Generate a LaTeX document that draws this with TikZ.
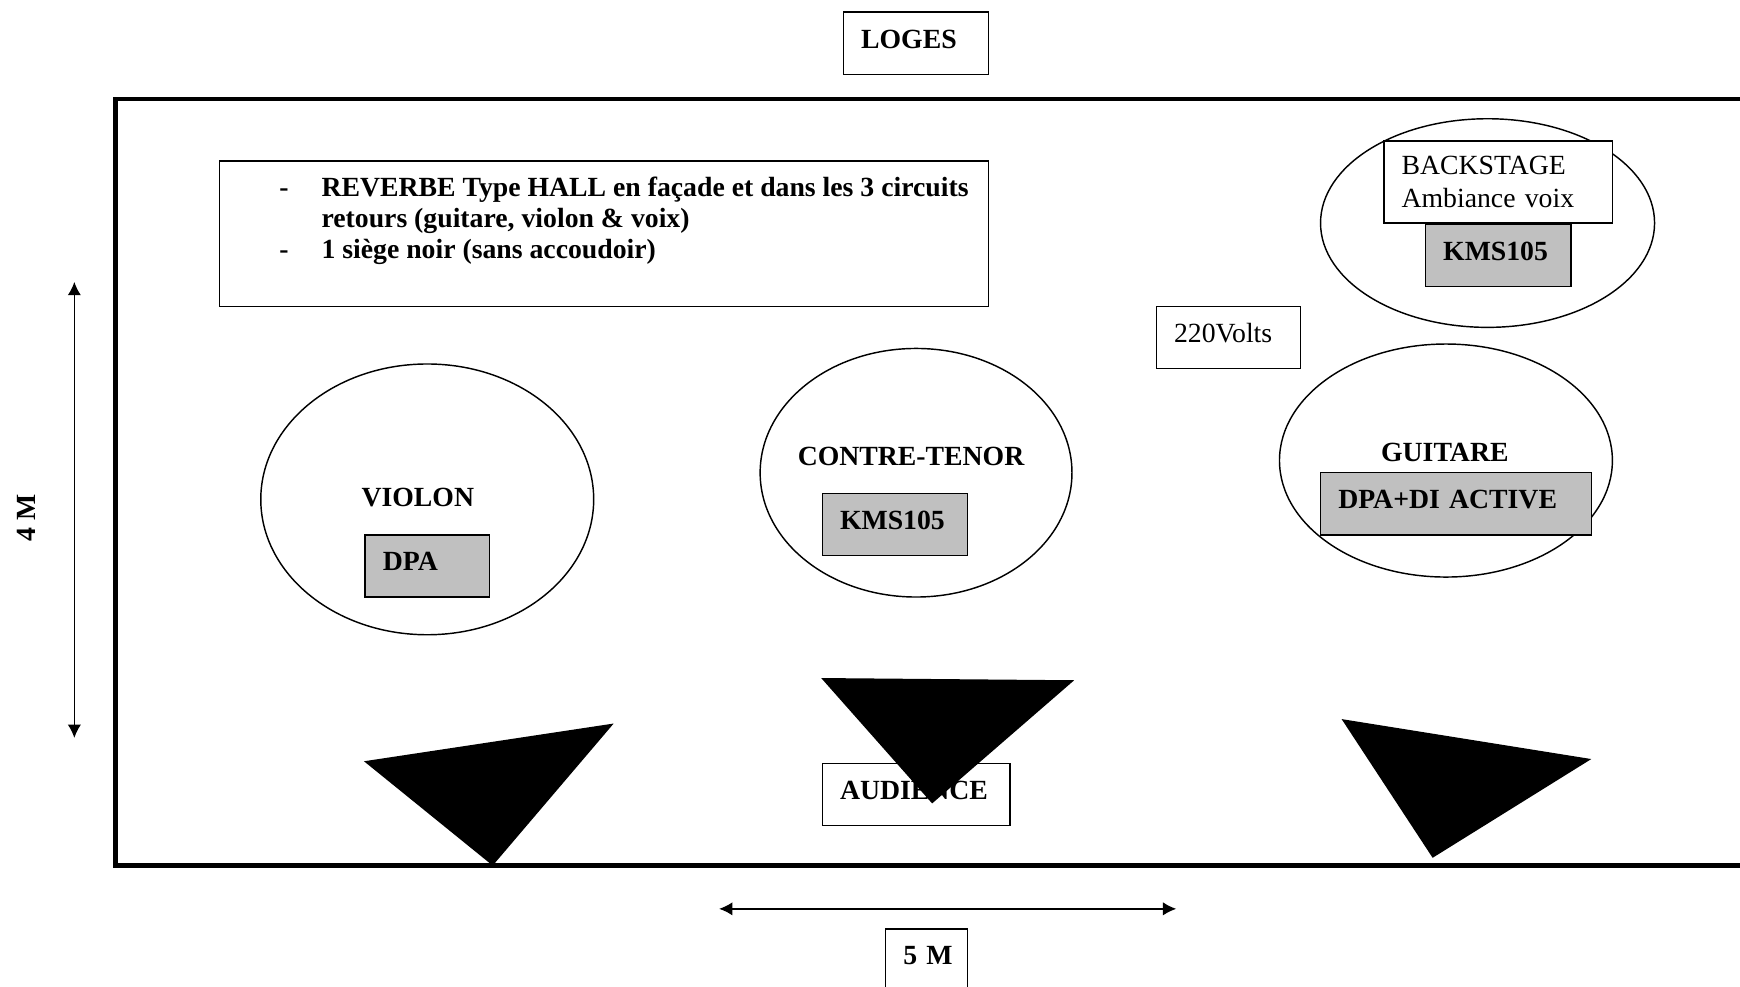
\documentclass[tikz,border=0pt,12pt]{standalone}
\usepackage{fontspec}
\setmainfont{Liberation Serif}
\usetikzlibrary{positioning,shapes.geometric,arrows.meta}
\definecolor{micgrey}{RGB}{192,192,192}

\begin{document}
\fontsize{12.5}{14.5}\selectfont
\begin{tikzpicture}[
            x=0.5pt,y=-0.5pt,
            frame/.style={draw,line width=.65pt,inner xsep=8pt,inner ysep=0pt,minimum height=28pt,
                text width=#1,align=left,font=\bfseries},
            box/.style={frame=#1,text depth=4pt},
            mic/.style={box=#1,fill=micgrey},
            zone/.style={draw,ellipse,line width=.65pt,inner sep=0pt},
            zlabel/.style={inner sep=0pt,font=\bfseries},
            spk/.style={fill=black},
            dim/.style={line width=.7pt,{Latex[length=6pt,width=6pt]}-{Latex[length=6pt,width=6pt]}}
        ]
            \useasboundingbox (0,0) rectangle (1568,889.4);
            \clip (0,0) rectangle (1568,889.4);
            \draw[line width=2pt] (104,89) rectangle (1640,780);
            \node (loges) [box=49.5pt,minimum width=65.5pt] at (825.5,39) {LOGES};
            \node (note) [draw,line width=.65pt,minimum width=346.5pt,minimum height=65.5pt] at (544.5,210.5) {};
            \node (notetxt) [anchor=north west,inner sep=0pt,font=\bfseries\fontsize{12.5}{14}\selectfont]
                at ([xshift=27pt,yshift=-6.5pt]note.north west)
                {\begin{tabular}{@{}p{19pt}@{}l@{}}
                 - & REVERBE Type HALL en façade et dans les 3 circuits\\
                   & retours (guitare, violon \& voix)\\
                 - & 1 siège noir (sans accoudoir)
                 \end{tabular}};
            \node (zback)    [zone,minimum width=150.5pt,minimum height=94pt]  at (1340.5,201) {};
            \node (zviolon)  [zone,minimum width=150pt,minimum height=122pt]   at (385,450) {};
            \node (zcontre)  [zone,minimum width=140.5pt,minimum height=112pt] at (825.5,426) {};
            \node (zguitare) [zone,minimum width=150pt,minimum height=105pt]   at (1303,415) {};
            \node (bs) [frame=87pt,font=\normalfont,minimum height=37pt,fill=white] at (1350,164)
                {BACKSTAGE\\Ambiance voix};
            \node (kmsb) [mic=49.5pt,below=0pt of bs] {KMS105};
            \node (volts) [box=49pt,font=\normalfont] at (1107,304) {220Volts};
            \node (tviolon)  [zlabel] at (376.5,448) {VIOLON};
            \node (tcontre)  [zlabel] at (821,411) {CONTRE-TENOR};
            \node (tguitare) [zlabel] at (1302,408) {GUITARE};
            \node (dpa)   [mic=40pt]    at (385,510)    {DPA};
            \node (kmsc)  [mic=49.5pt]  at (806.5,472.5) {KMS105};
            \node (dpadi) [mic=106pt]   at (1312,454)   {DPA+DI ACTIVE};
            \node (aud)   [box=68.5pt]  at (825.5,716)  {AUDIENCE};
            \fill[spk] (328,686) -- (553,652) -- (444,780) -- cycle;
            \fill[spk] (740,611) -- (968,613) -- (840,724) -- cycle;
            \fill[spk] (1209,648) -- (1434,684) -- (1291,773) -- cycle;
            \coordinate (dimtop) at (67,254);
            \coordinate (dimbot) at (67,665);
            \draw[dim] (dimtop) -- (dimbot);
            \node (fourm) [zlabel,rotate=90] at (24,467) {4 M};
            \coordinate (dimleft) at (648,819);
            \coordinate (dimright) at (1060,819);
            \draw[dim] (dimleft) -- (dimright);
            \node (five) [box=21pt] at (835,865) {\mbox{5 M}};
        \end{tikzpicture}
\end{document}
